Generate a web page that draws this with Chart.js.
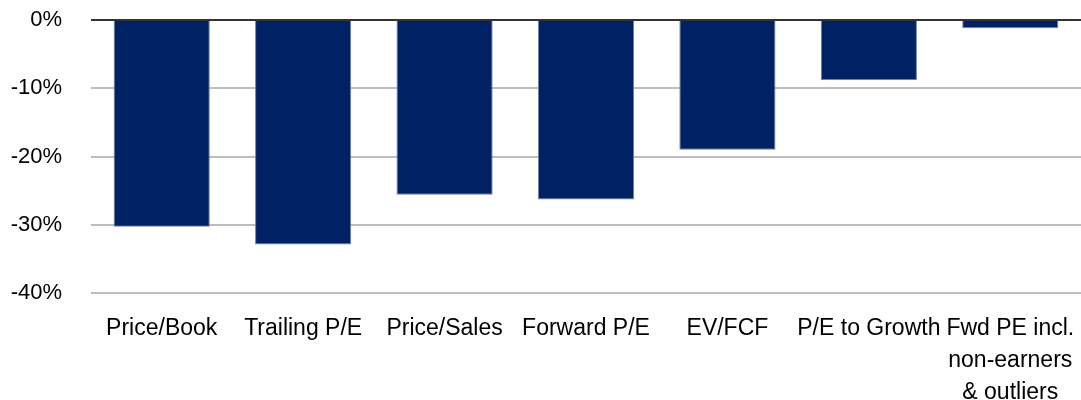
<!DOCTYPE html>
<html><head><meta charset="utf-8">
<script src="https://cdn.jsdelivr.net/npm/chart.js@4"></script>
<style>html,body{margin:0;padding:0;background:#fff}#wrap{width:1081px;height:400px}</style>
</head><body><div id="wrap"><canvas id="c" width="1081" height="400"></canvas></div>
<script>
const categories = ["Price/Book", "Trailing P/E", "Price/Sales", "Forward P/E", "EV/FCF", "P/E to Growth", ["Fwd PE incl.", "non-earners", "& outliers"]];
const values = [-30.3, -32.9, -25.6, -26.3, -19.0, -8.8, -1.2];
const yTicks = [0, -10, -20, -30, -40];

const FONT = "'Liberation Sans', Arial, sans-serif";

const zeroLine = {
  id: 'zeroLine',
  afterDatasetsDraw(chart) {
    const y = chart.scales.y.getPixelForValue(0);
    const a = chart.chartArea;
    const ctx = chart.ctx;
    ctx.save();
    ctx.strokeStyle = '#333333';
    ctx.lineWidth = 2;
    ctx.beginPath();
    ctx.moveTo(a.left, y);
    ctx.lineTo(a.right, y);
    ctx.stroke();
    ctx.restore();
  }
};

new Chart(document.getElementById('c'), {
  type: 'bar',
  data: {
    labels: categories,
    datasets: [{
      data: values,
      backgroundColor: '#002163',
      borderColor: '#6f7fa8',
      borderWidth: 1,
      categoryPercentage: 1,
      barPercentage: 0.68
    }]
  },
  options: {
    responsive: false,
    animation: false,
    events: [],
    layout: { padding: { top: 20, right: 0, left: 0, bottom: 0 } },
    plugins: { legend: { display: false }, tooltip: { enabled: false } },
    scales: {
      x: {
        grid: { display: false, drawTicks: false },
        border: { display: false },
        ticks: {
          color: '#000',
          font: { family: FONT, size: 23, lineHeight: 1.38 },
          padding: 20,
          maxRotation: 0,
          autoSkip: false
        },
        afterFit(s) { s.height = 107; s.paddingLeft = 0; s.paddingRight = 0; }
      },
      y: {
        min: Math.min(...yTicks),
        max: Math.max(...yTicks),
        afterBuildTicks(s) { s.ticks = yTicks.map(v => ({ value: v })); },
        grid: {
          color: '#bdbdbd',
          lineWidth: 2,
          drawTicks: false
        },
        border: { display: false },
        ticks: {
          color: '#000',
          font: { family: FONT, size: 22 },
          padding: 29,
          callback: v => v + '%'
        },
        afterFit(s) { s.width = 91; s.paddingTop = 0; s.paddingBottom = 0; }
      }
    }
  },
  plugins: [zeroLine]
});
</script></body></html>
